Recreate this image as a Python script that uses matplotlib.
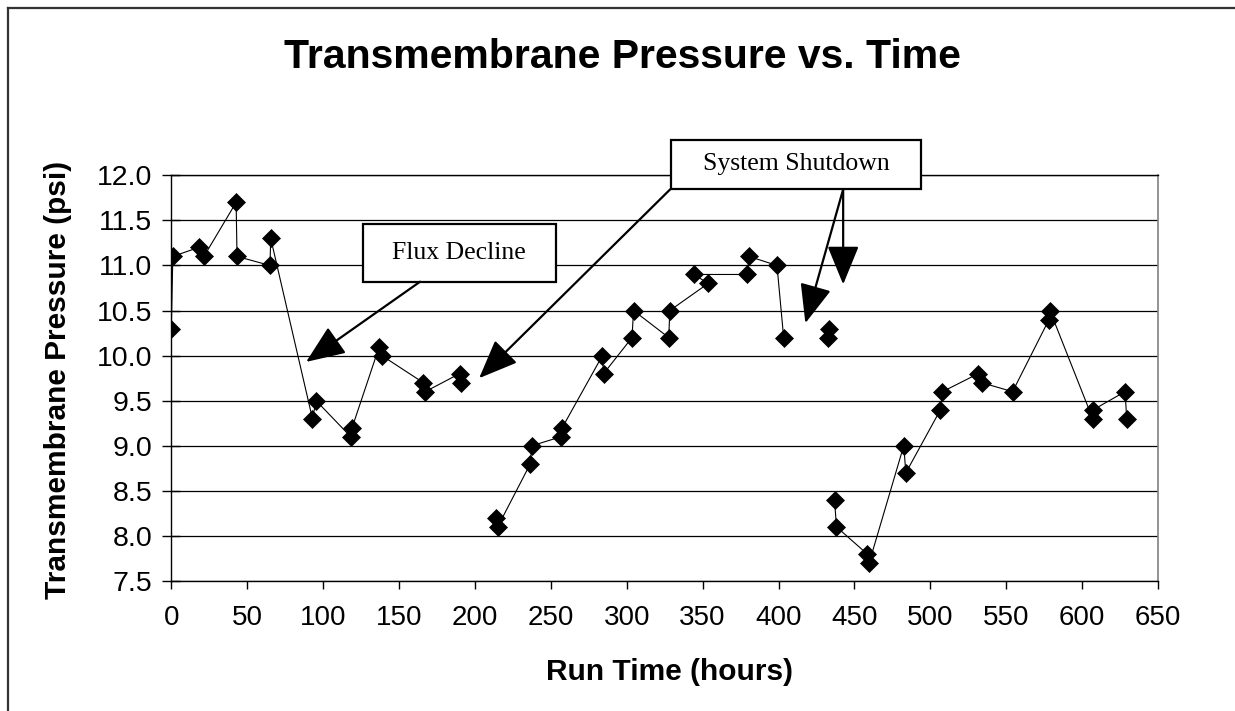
import numpy as np
import matplotlib
matplotlib.use("Agg")
import matplotlib.pyplot as plt
from matplotlib.patches import Rectangle
from matplotlib.lines import Line2D

plt.rcParams['font.family'] = ['Liberation Sans', 'DejaVu Sans']

# ---- data (NaN marks breaks in the connecting line) ----
run_time_hours = [0, 1, 18, 21.5, 42.7, 43.3, 65, 65.5, 93, 95.4, 118.2, 119.1,
                  137, 138.7, 166, 167.3, 189.9, 190.8,
                  np.nan,
                  214, 215, 236.5, 237.5, 256.7, 257.5, 284, 284.8, 303.5, 304.5,
                  327.7, 328.4, 353.6, 344.4, 379.5, 380.5, 399, 403.4,
                  np.nan,
                  432.6, 433.3,
                  np.nan,
                  436.9, 438.2, 458.4, 459.7, 482.5, 483.9, 506.7, 508, 531.6,
                  533.8, 554.2, 578.2, 578.8, 607, 607.4, 628.3, 629.4]
tmp_psi = [10.3, 11.1, 11.2, 11.1, 11.7, 11.1, 11.0, 11.3, 9.3, 9.5, 9.1, 9.2,
           10.1, 10.0, 9.7, 9.6, 9.8, 9.7,
           np.nan,
           8.2, 8.1, 8.8, 9.0, 9.1, 9.2, 10.0, 9.8, 10.2, 10.5,
           10.2, 10.5, 10.8, 10.9, 10.9, 11.1, 11.0, 10.2,
           np.nan,
           10.2, 10.3,
           np.nan,
           8.4, 8.1, 7.8, 7.7, 9.0, 8.7, 9.4, 9.6, 9.8,
           9.7, 9.6, 10.4, 10.5, 9.3, 9.4, 9.6, 9.3]

x_ticks = list(range(0, 651, 50))
y_ticks = [7.5, 8.0, 8.5, 9.0, 9.5, 10.0, 10.5, 11.0, 11.5, 12.0]

title = "Transmembrane Pressure vs. Time"
x_label = "Run Time (hours)"
y_label = "Transmembrane Pressure (psi)"

# annotations: (text, box center (x, y) in data units, box size (w, h) in data units)
flux_box = ("Flux Decline", (189.7, 11.14), (127.3, 0.636))
shutdown_box = ("System Shutdown", (411.6, 12.12), (164.8, 0.55))
# arrows: (start, tip) in data units
flux_arrows = [((163.9, 10.82), (88.8, 9.93))]
shutdown_arrows = [((328.7, 11.845), (202.8, 9.75)),
                   ((442.6, 11.845), (417.7, 10.36)),
                   ((442.6, 11.845), (442.6, 10.79))]

# ---- figure ----
W, H = 1235, 711
fig = plt.figure(figsize=(W / 100, H / 100), dpi=100)
fig.patch.set_facecolor('white')

# outer chart border: only left and top edges fall inside the picture
bx, by = 8 / W, 1 - 8 / H
fig.add_artist(Line2D([bx, bx], [0, by], transform=fig.transFigure,
                      color='#333333', linewidth=1.6))
fig.add_artist(Line2D([bx, 1], [by, by], transform=fig.transFigure,
                      color='#333333', linewidth=1.6))

left, right = 171.3, 1158
top, bottom = 175.3, 581
ax = fig.add_axes([left / W, 1 - bottom / H, (right - left) / W, (bottom - top) / H])

ax.plot(run_time_hours, tmp_psi, color='black', linewidth=0.8,
        marker='D', markersize=8.8, markerfacecolor='black',
        markeredgecolor='black', markeredgewidth=0.5, zorder=3)

ax.set_xlim(0, 650)
ax.set_ylim(7.5, 12.0)
ax.set_xticks(x_ticks)
ax.set_xticklabels([str(v) for v in x_ticks])
ax.set_yticks(y_ticks)
ax.set_yticklabels([f"{v:.1f}" for v in y_ticks])

ax.grid(axis='y', color='black', linewidth=0.9)
ax.set_axisbelow(True)
for s in ('left', 'bottom', 'top'):
    ax.spines[s].set_color('black')
    ax.spines[s].set_linewidth(1.0)
ax.spines['right'].set_color('#808080')
ax.spines['right'].set_linewidth(1.2)

ax.tick_params(axis='x', direction='out', length=6, width=1, labelsize=20,
               pad=11, colors='black')
ax.tick_params(axis='y', direction='inout', length=13, width=1, labelsize=20.5,
               pad=7, colors='black')

fig.text(670 / W, 1 - 672 / H, x_label, ha='center', va='center',
         fontsize=21.5, fontweight='bold')
fig.text(58 / W, 1 - 380 / H, y_label, ha='center', va='center', rotation=90,
         fontsize=21.5, fontweight='bold')
fig.text(622 / W, 1 - 57 / H, title, ha='center', va='center',
         fontsize=29.5, fontweight='bold')

# annotation boxes
for text, (cx, cy), (bw, bh) in (flux_box, shutdown_box):
    ax.add_patch(Rectangle((cx - bw / 2, cy - bh / 2), bw, bh, facecolor='white',
                           edgecolor='black', linewidth=1.6, clip_on=False, zorder=5))
    ax.text(cx, cy, text, ha='center', va='center', fontsize=18.5,
            family=['Liberation Serif', 'DejaVu Serif'], zorder=6, clip_on=False)

for start, tip in flux_arrows + shutdown_arrows:
    ax.annotate('', xy=tip, xytext=start, xycoords='data', textcoords='data',
                annotation_clip=False,
                arrowprops=dict(arrowstyle='-|>,head_length=1.1,head_width=0.45',
                                color='black', linewidth=1.6,
                                mutation_scale=22, shrinkA=0, shrinkB=0),
                zorder=6)

fig.savefig('out.png', dpi=100, facecolor='white')
